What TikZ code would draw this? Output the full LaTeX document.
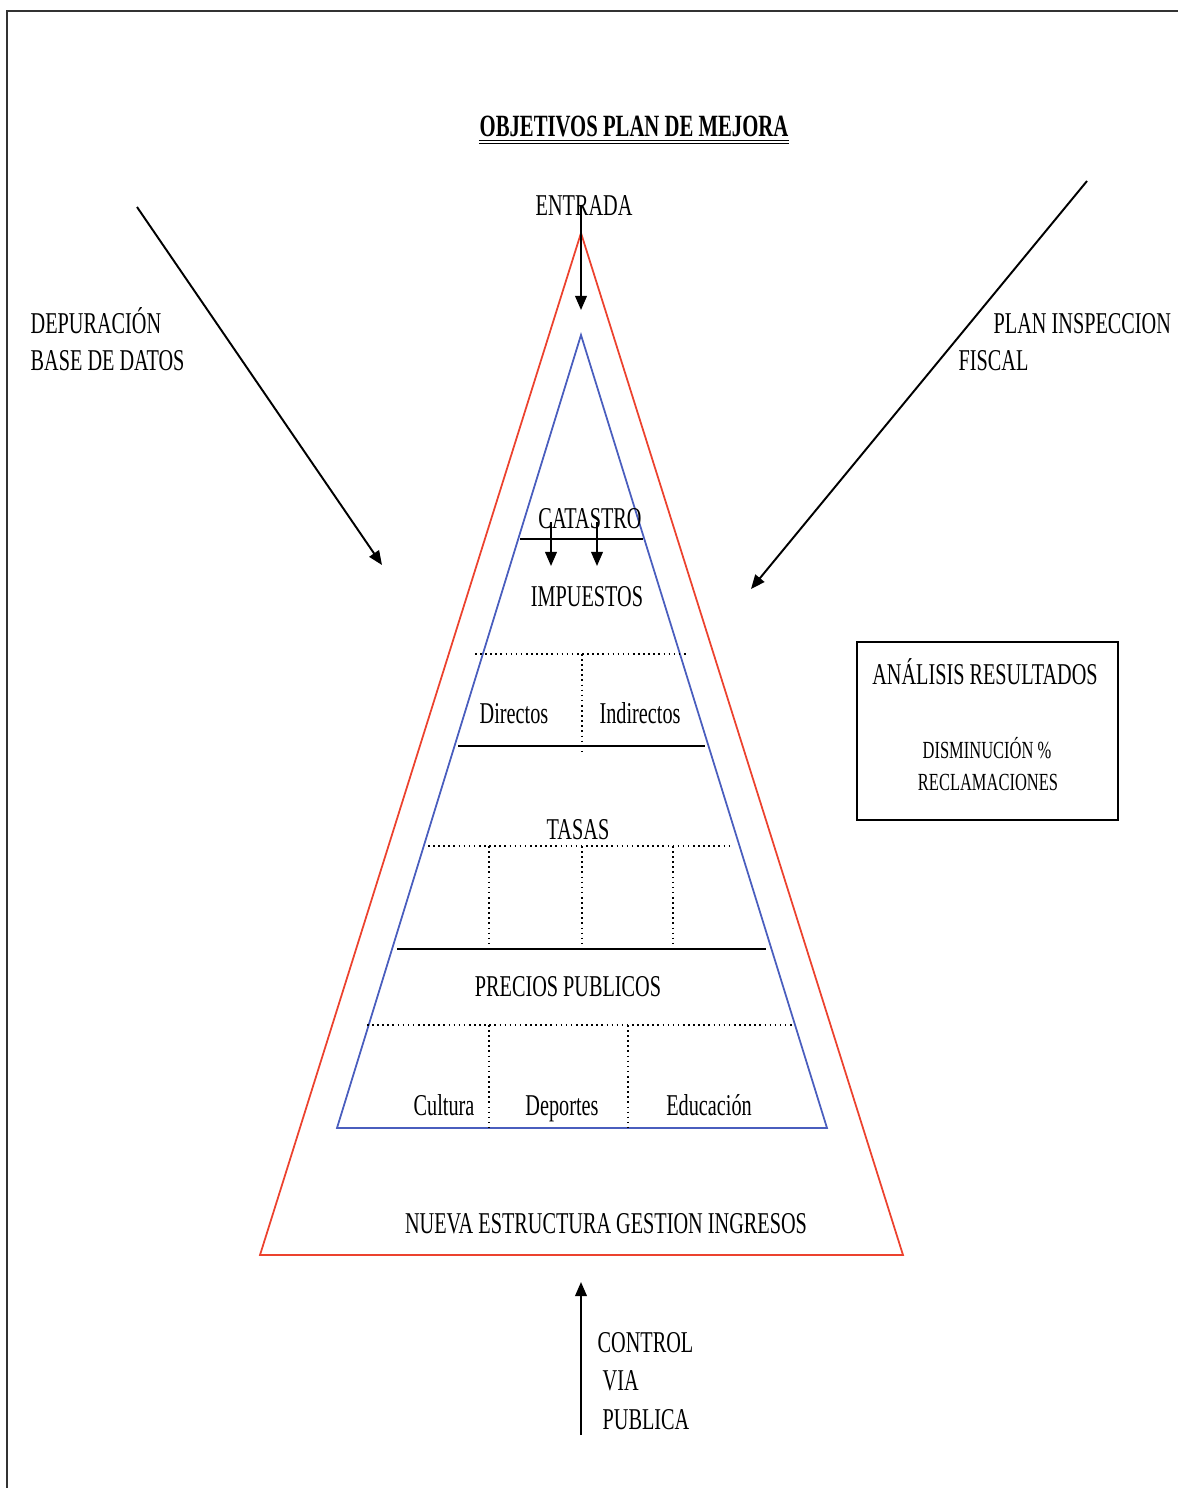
\documentclass[tikz,border=0pt]{standalone}
\usepackage{fontspec}
\setmainfont{Liberation Serif}[FakeStretch=0.67]
\usetikzlibrary{arrows.meta}
\definecolor{pyrred}{RGB}{236,66,46}
\definecolor{pyrblue}{RGB}{74,94,190}
\tikzset{
  lbl/.style={anchor=base, inner sep=0pt, font=\fontsize{8.6}{10}\selectfont},
  lblw/.style={lbl, anchor=base west},
  small/.style={lbl, font=\fontsize{7}{8}\selectfont},
  arr/.style={-{Triangle[length=4pt,width=3.3pt]}, line width=0.55pt},
  sepline/.style={line width=0.6pt},
  dotline/.style={densely dotted, line width=0.45pt},
}
\begin{document}
\begin{tikzpicture}[x=0.1mm, y=-0.1mm]
\useasboundingbox (0,0) rectangle (1178,1488);
\draw[line width=0.4pt, black!80] (1178,11) -- (7,11) -- (7,1488);

\node[lbl, font=\fontsize{8.8}{10}\selectfont\bfseries] (title) at (634,136) {OBJETIVOS PLAN DE MEJORA};
\draw[line width=0.3pt] ([yshift=-1.3pt]title.base west) -- ([yshift=-1.3pt]title.base east);
\draw[line width=0.3pt] ([yshift=-2.1pt]title.base west) -- ([yshift=-2.1pt]title.base east);

\draw[pyrred, line width=0.5pt] (581,233) -- (903,1255) -- (260,1255) -- cycle;
\draw[pyrblue, line width=0.5pt] (581,335) -- (827,1128) -- (337,1128) -- cycle;

\node[lbl] (entrada) at (584,215) {ENTRADA};
\coordinate (entradain) at (581,205);
\coordinate (entradaout) at (581,310);
\draw[arr] (entradain) -- (entradaout);

\node[lbl] (catastro) at (590,528) {CATASTRO};
\draw[sepline] (520,539) -- (643,539);
\coordinate (catin1) at (551,522);
\coordinate (catout1) at (551,566);
\coordinate (catin2) at (597,522);
\coordinate (catout2) at (597,566);
\draw[arr] (catin1) -- (catout1);
\draw[arr] (catin2) -- (catout2);

\node[lbl] (impuestos) at (587,606) {IMPUESTOS};
\draw[dotline] (475,654) -- (688,654);
\draw[dotline] (582,654) -- (582,753);
\node[lbl] (directos) at (514,723) {Directos};
\node[lbl] (indirectos) at (640,723) {Indirectos};
\draw[sepline] (458,746) -- (705,746);

\node[lbl] (tasas) at (578,839) {TASAS};
\draw[dotline] (428,846) -- (733,846);
\draw[dotline] (489,846) -- (489,946);
\draw[dotline] (582,846) -- (582,946);
\draw[dotline] (673,846) -- (673,946);
\draw[sepline, line width=0.8pt] (397,949) -- (766,949);

\node[lbl] (precios) at (568,996) {PRECIOS PUBLICOS};
\draw[dotline] (367,1025) -- (795,1025);
\draw[dotline] (489,1025) -- (489,1127);
\draw[dotline] (628,1025) -- (628,1127);
\node[lbl] (cultura) at (444,1115) {Cultura};
\node[lbl] (deportes) at (562,1115) {Deportes};
\node[lbl] (educacion) at (709,1115) {Educación};

\node[lbl] (nueva) at (606,1233) {NUEVA ESTRUCTURA GESTION INGRESOS};

\coordinate (controlin) at (581,1435);
\coordinate (controlout) at (581,1282);
\draw[arr] (controlin) -- (controlout);
\node[lblw] (control) at (597,1352) {CONTROL};
\node[lblw] (via) at (602,1390) {VIA};
\node[lblw] (publica) at (602,1429) {PUBLICA};

\node[lblw] (depuracion) at (30,333) {DEPURACIÓN};
\node[lblw] (basedatos) at (30,370) {BASE DE DATOS};
\coordinate (depin) at (137,207);
\coordinate (depout) at (382,565);
\draw[arr] (depin) -- (depout);

\node[lblw] (plan) at (993,333) {PLAN INSPECCION};
\node[lblw] (fiscal) at (958,370) {FISCAL};
\coordinate (planin) at (1087,181);
\coordinate (planout) at (751,589);
\draw[arr] (planin) -- (planout);

\node[draw, line width=0.5pt, minimum width=26.1mm, minimum height=17.8mm, inner sep=0pt] (resbox) at (987.5,731) {};
\node[lbl] (analisis) at (985,684) {ANÁLISIS RESULTADOS};
\node[small] (disminucion) at (987,758) {DISMINUCIÓN \%};
\node[small] (reclamaciones) at (988,790) {RECLAMACIONES};
\end{tikzpicture}
\end{document}
